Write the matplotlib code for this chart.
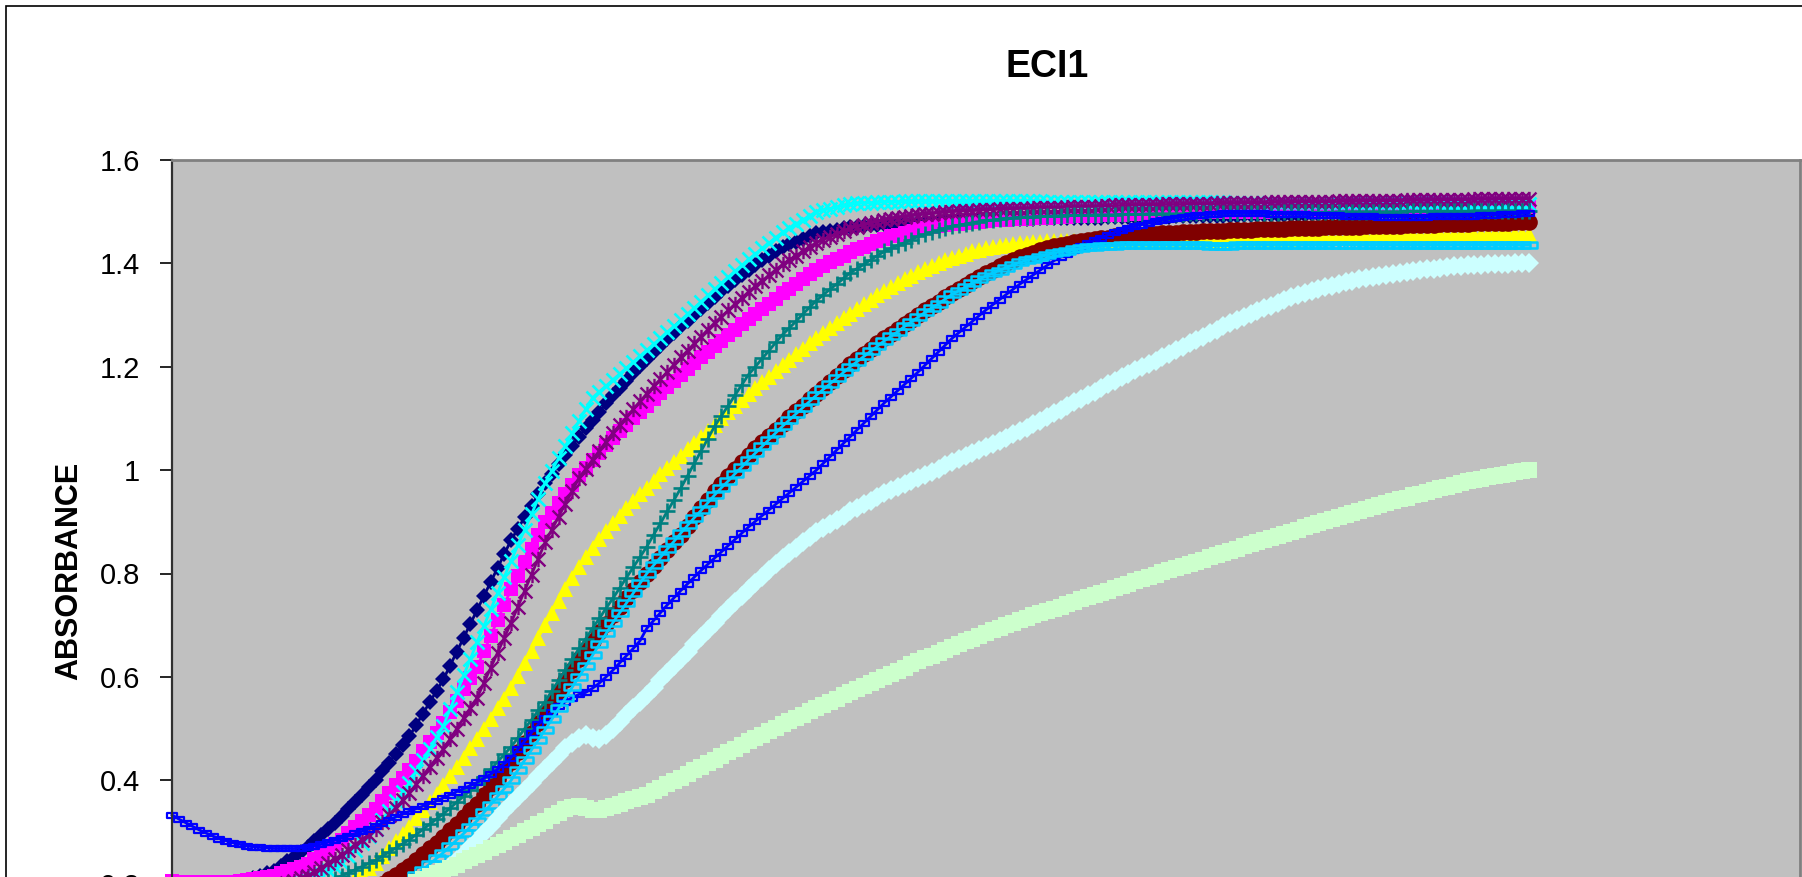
import numpy as np
import matplotlib
matplotlib.use("Agg")
from matplotlib import pyplot as plt
from matplotlib.path import Path
from matplotlib.patches import Rectangle

plt.rcParams["font.family"] = ["Liberation Sans", "DejaVu Sans"]

# sampling time, seconds
time_s = np.arange(0, 1005, 5)

s1 = [0.170, 0.172, 0.174, 0.176, 0.178, 0.180, 0.184, 0.188, 0.192, 0.196,
      0.200, 0.205, 0.210, 0.215, 0.220, 0.225, 0.234, 0.243, 0.252, 0.261,
      0.270, 0.282, 0.294, 0.306, 0.318, 0.330, 0.344, 0.358, 0.372, 0.386,
      0.400, 0.417, 0.434, 0.451, 0.468, 0.485, 0.507, 0.529, 0.551, 0.573,
      0.595, 0.622, 0.649, 0.676, 0.703, 0.730, 0.757, 0.784, 0.811, 0.838,
      0.865, 0.887, 0.909, 0.931, 0.953, 0.975, 0.993, 1.011, 1.029, 1.047,
      1.065, 1.081, 1.097, 1.113, 1.129, 1.145, 1.159, 1.173, 1.187, 1.201,
      1.215, 1.228, 1.240, 1.253, 1.265, 1.278, 1.289, 1.301, 1.312, 1.324,
      1.335, 1.346, 1.356, 1.367, 1.377, 1.388, 1.397, 1.406, 1.414, 1.423,
      1.432, 1.437, 1.442, 1.448, 1.453, 1.458, 1.460, 1.463, 1.465, 1.468,
      1.470, 1.471, 1.472, 1.474, 1.475, 1.476, 1.477, 1.478, 1.478, 1.479,
      1.480, 1.480, 1.481, 1.481, 1.482, 1.482, 1.482, 1.483, 1.483, 1.484,
      1.484, 1.484, 1.485, 1.485, 1.486, 1.486, 1.486, 1.486, 1.487, 1.487,
      1.487, 1.487, 1.487, 1.488, 1.488, 1.488, 1.488, 1.488, 1.489, 1.489,
      1.489, 1.489, 1.489, 1.490, 1.490, 1.490, 1.490, 1.490, 1.491, 1.491,
      1.491, 1.491, 1.491, 1.492, 1.492, 1.492, 1.492, 1.492, 1.493, 1.493,
      1.493, 1.493, 1.493, 1.494, 1.494, 1.494, 1.494, 1.494, 1.495, 1.495,
      1.495, 1.495, 1.495, 1.496, 1.496, 1.496, 1.496, 1.496, 1.497, 1.497,
      1.497, 1.497, 1.497, 1.498, 1.498, 1.498, 1.498, 1.498, 1.498, 1.498,
      1.498, 1.498, 1.499, 1.499, 1.499, 1.499, 1.499, 1.499, 1.500, 1.500,
      1.500]

s2 = [0.205, 0.204, 0.204, 0.203, 0.203, 0.202, 0.203, 0.203, 0.204, 0.204,
      0.205, 0.207, 0.209, 0.211, 0.213, 0.215, 0.220, 0.224, 0.229, 0.233,
      0.238, 0.247, 0.257, 0.266, 0.276, 0.285, 0.297, 0.309, 0.321, 0.333,
      0.345, 0.360, 0.375, 0.390, 0.405, 0.420, 0.438, 0.456, 0.474, 0.492,
      0.510, 0.532, 0.554, 0.576, 0.598, 0.620, 0.650, 0.680, 0.710, 0.740,
      0.770, 0.796, 0.822, 0.848, 0.874, 0.900, 0.918, 0.936, 0.954, 0.972,
      0.990, 1.004, 1.019, 1.033, 1.048, 1.062, 1.075, 1.087, 1.100, 1.112,
      1.125, 1.137, 1.149, 1.161, 1.173, 1.185, 1.196, 1.207, 1.218, 1.229,
      1.240, 1.250, 1.261, 1.271, 1.282, 1.292, 1.302, 1.312, 1.322, 1.332,
      1.342, 1.351, 1.360, 1.370, 1.379, 1.388, 1.395, 1.402, 1.408, 1.415,
      1.422, 1.427, 1.432, 1.438, 1.443, 1.448, 1.452, 1.455, 1.459, 1.462,
      1.466, 1.468, 1.470, 1.472, 1.474, 1.476, 1.477, 1.478, 1.480, 1.481,
      1.482, 1.483, 1.484, 1.484, 1.485, 1.486, 1.486, 1.487, 1.488, 1.488,
      1.489, 1.490, 1.490, 1.491, 1.491, 1.492, 1.492, 1.493, 1.493, 1.494,
      1.494, 1.495, 1.495, 1.496, 1.496, 1.497, 1.497, 1.497, 1.498, 1.498,
      1.498, 1.498, 1.499, 1.499, 1.499, 1.499, 1.499, 1.500, 1.500, 1.500,
      1.500, 1.500, 1.501, 1.501, 1.501, 1.501, 1.502, 1.502, 1.502, 1.502,
      1.503, 1.503, 1.503, 1.503, 1.504, 1.504, 1.504, 1.504, 1.505, 1.505,
      1.505, 1.505, 1.506, 1.506, 1.506, 1.507, 1.507, 1.507, 1.507, 1.507,
      1.508, 1.508, 1.508, 1.508, 1.509, 1.509, 1.509, 1.509, 1.510, 1.510,
      1.510]

s3 = [0.150, 0.150, 0.151, 0.151, 0.152, 0.152, 0.153, 0.154, 0.154, 0.155,
      0.156, 0.157, 0.158, 0.160, 0.161, 0.162, 0.164, 0.166, 0.168, 0.170,
      0.172, 0.176, 0.180, 0.184, 0.188, 0.192, 0.202, 0.211, 0.221, 0.230,
      0.240, 0.254, 0.268, 0.282, 0.296, 0.310, 0.326, 0.342, 0.358, 0.374,
      0.390, 0.408, 0.426, 0.444, 0.462, 0.480, 0.500, 0.519, 0.539, 0.558,
      0.578, 0.602, 0.627, 0.651, 0.676, 0.700, 0.724, 0.747, 0.770, 0.792,
      0.812, 0.831, 0.849, 0.866, 0.882, 0.897, 0.912, 0.926, 0.940, 0.953,
      0.966, 0.979, 0.992, 1.004, 1.016, 1.028, 1.040, 1.052, 1.064, 1.076,
      1.088, 1.100, 1.112, 1.124, 1.136, 1.148, 1.159, 1.170, 1.181, 1.192,
      1.203, 1.214, 1.225, 1.235, 1.245, 1.255, 1.265, 1.275, 1.285, 1.294,
      1.303, 1.312, 1.321, 1.330, 1.338, 1.346, 1.354, 1.362, 1.369, 1.376,
      1.383, 1.389, 1.395, 1.401, 1.406, 1.411, 1.415, 1.419, 1.423, 1.426,
      1.429, 1.431, 1.433, 1.435, 1.437, 1.439, 1.440, 1.441, 1.442, 1.443,
      1.444, 1.444, 1.444, 1.444, 1.444, 1.445, 1.445, 1.445, 1.445, 1.445,
      1.445, 1.445, 1.445, 1.445, 1.445, 1.446, 1.446, 1.446, 1.446, 1.446,
      1.446, 1.446, 1.446, 1.446, 1.446, 1.446, 1.447, 1.447, 1.447, 1.447,
      1.447, 1.447, 1.448, 1.448, 1.448, 1.448, 1.449, 1.449, 1.449, 1.449,
      1.450, 1.450, 1.450, 1.450, 1.451, 1.451, 1.451, 1.451, 1.452, 1.452,
      1.452, 1.452, 1.453, 1.453, 1.453, 1.453, 1.454, 1.454, 1.454, 1.454,
      1.455, 1.455, 1.455, 1.455, 1.456, 1.456, 1.456, 1.456, 1.457, 1.457,
      1.457]

s4 = [0.160, 0.161, 0.162, 0.163, 0.164, 0.165, 0.166, 0.168, 0.169, 0.171,
      0.172, 0.175, 0.177, 0.180, 0.182, 0.185, 0.189, 0.193, 0.197, 0.201,
      0.205, 0.212, 0.219, 0.226, 0.233, 0.240, 0.253, 0.266, 0.279, 0.292,
      0.305, 0.323, 0.341, 0.359, 0.377, 0.395, 0.417, 0.439, 0.461, 0.483,
      0.505, 0.538, 0.570, 0.603, 0.635, 0.668, 0.699, 0.731, 0.762, 0.794,
      0.825, 0.855, 0.885, 0.915, 0.945, 0.975, 0.999, 1.023, 1.047, 1.071,
      1.095, 1.118, 1.140, 1.152, 1.163, 1.175, 1.186, 1.198, 1.209, 1.221,
      1.232, 1.244, 1.255, 1.267, 1.278, 1.290, 1.302, 1.314, 1.326, 1.338,
      1.350, 1.362, 1.373, 1.385, 1.396, 1.408, 1.418, 1.429, 1.439, 1.450,
      1.460, 1.468, 1.476, 1.484, 1.492, 1.500, 1.503, 1.506, 1.509, 1.512,
      1.515, 1.516, 1.517, 1.517, 1.518, 1.519, 1.519, 1.519, 1.520, 1.520,
      1.520, 1.520, 1.520, 1.520, 1.520, 1.520, 1.520, 1.520, 1.520, 1.520,
      1.520, 1.520, 1.520, 1.520, 1.520, 1.520, 1.520, 1.520, 1.520, 1.519,
      1.519, 1.519, 1.519, 1.519, 1.519, 1.519, 1.519, 1.519, 1.519, 1.519,
      1.519, 1.519, 1.519, 1.518, 1.518, 1.518, 1.518, 1.518, 1.518, 1.518,
      1.518, 1.518, 1.518, 1.518, 1.518, 1.518, 1.517, 1.517, 1.517, 1.517,
      1.517, 1.517, 1.517, 1.517, 1.517, 1.517, 1.517, 1.517, 1.517, 1.517,
      1.517, 1.517, 1.516, 1.516, 1.516, 1.516, 1.516, 1.516, 1.516, 1.516,
      1.516, 1.516, 1.516, 1.516, 1.516, 1.516, 1.516, 1.516, 1.515, 1.515,
      1.515, 1.515, 1.515, 1.515, 1.515, 1.515, 1.515, 1.515, 1.515, 1.515,
      1.515]

s5 = [0.165, 0.166, 0.167, 0.168, 0.169, 0.170, 0.172, 0.173, 0.175, 0.176,
      0.178, 0.181, 0.184, 0.186, 0.189, 0.192, 0.197, 0.201, 0.206, 0.210,
      0.215, 0.223, 0.231, 0.239, 0.247, 0.255, 0.265, 0.275, 0.285, 0.295,
      0.305, 0.319, 0.333, 0.347, 0.361, 0.375, 0.392, 0.409, 0.426, 0.443,
      0.460, 0.480, 0.500, 0.520, 0.540, 0.560, 0.589, 0.618, 0.647, 0.676,
      0.705, 0.736, 0.767, 0.798, 0.829, 0.860, 0.885, 0.910, 0.935, 0.960,
      0.985, 1.002, 1.020, 1.037, 1.055, 1.072, 1.087, 1.102, 1.118, 1.133,
      1.148, 1.162, 1.176, 1.190, 1.204, 1.218, 1.231, 1.245, 1.258, 1.272,
      1.285, 1.297, 1.309, 1.321, 1.333, 1.345, 1.356, 1.366, 1.377, 1.387,
      1.398, 1.406, 1.415, 1.423, 1.432, 1.440, 1.446, 1.451, 1.457, 1.462,
      1.468, 1.471, 1.474, 1.478, 1.481, 1.484, 1.486, 1.488, 1.490, 1.492,
      1.494, 1.495, 1.496, 1.498, 1.499, 1.500, 1.501, 1.502, 1.502, 1.503,
      1.504, 1.504, 1.505, 1.505, 1.506, 1.506, 1.506, 1.507, 1.507, 1.508,
      1.508, 1.508, 1.509, 1.509, 1.510, 1.510, 1.510, 1.511, 1.511, 1.512,
      1.512, 1.512, 1.513, 1.513, 1.513, 1.513, 1.514, 1.514, 1.514, 1.514,
      1.515, 1.515, 1.515, 1.515, 1.516, 1.516, 1.516, 1.516, 1.517, 1.517,
      1.517, 1.517, 1.518, 1.518, 1.518, 1.518, 1.519, 1.519, 1.519, 1.519,
      1.519, 1.519, 1.520, 1.520, 1.520, 1.520, 1.521, 1.521, 1.521, 1.521,
      1.521, 1.521, 1.522, 1.522, 1.522, 1.522, 1.523, 1.523, 1.523, 1.523,
      1.523, 1.523, 1.524, 1.524, 1.524, 1.524, 1.525, 1.525, 1.525, 1.525,
      1.525]

s6 = [0.120, 0.121, 0.122, 0.122, 0.123, 0.124, 0.125, 0.126, 0.128, 0.129,
      0.130, 0.132, 0.133, 0.135, 0.136, 0.138, 0.140, 0.143, 0.145, 0.148,
      0.150, 0.153, 0.156, 0.160, 0.163, 0.166, 0.171, 0.176, 0.180, 0.185,
      0.190, 0.199, 0.208, 0.217, 0.226, 0.235, 0.246, 0.257, 0.268, 0.279,
      0.290, 0.303, 0.316, 0.329, 0.342, 0.355, 0.371, 0.387, 0.403, 0.419,
      0.435, 0.454, 0.473, 0.492, 0.511, 0.530, 0.551, 0.572, 0.593, 0.614,
      0.635, 0.652, 0.669, 0.686, 0.703, 0.720, 0.736, 0.752, 0.768, 0.784,
      0.800, 0.815, 0.830, 0.845, 0.860, 0.875, 0.892, 0.909, 0.926, 0.943,
      0.960, 0.974, 0.988, 1.002, 1.016, 1.030, 1.042, 1.054, 1.066, 1.078,
      1.090, 1.102, 1.114, 1.125, 1.137, 1.148, 1.159, 1.171, 1.182, 1.194,
      1.205, 1.215, 1.225, 1.235, 1.245, 1.255, 1.264, 1.273, 1.282, 1.291,
      1.300, 1.309, 1.317, 1.326, 1.334, 1.343, 1.351, 1.359, 1.366, 1.374,
      1.382, 1.388, 1.394, 1.400, 1.406, 1.412, 1.416, 1.420, 1.425, 1.429,
      1.433, 1.436, 1.438, 1.441, 1.443, 1.446, 1.447, 1.449, 1.450, 1.452,
      1.453, 1.454, 1.455, 1.455, 1.456, 1.457, 1.458, 1.459, 1.459, 1.460,
      1.461, 1.461, 1.462, 1.462, 1.463, 1.463, 1.464, 1.464, 1.465, 1.465,
      1.466, 1.466, 1.467, 1.467, 1.467, 1.468, 1.468, 1.468, 1.469, 1.469,
      1.470, 1.470, 1.470, 1.471, 1.471, 1.471, 1.472, 1.472, 1.472, 1.473,
      1.473, 1.473, 1.474, 1.474, 1.475, 1.475, 1.475, 1.476, 1.476, 1.477,
      1.477, 1.477, 1.478, 1.478, 1.478, 1.479, 1.479, 1.479, 1.480, 1.480,
      1.480]

s7 = [0.140, 0.141, 0.142, 0.143, 0.144, 0.145, 0.146, 0.148, 0.149, 0.151,
      0.152, 0.155, 0.157, 0.160, 0.162, 0.165, 0.169, 0.173, 0.177, 0.181,
      0.185, 0.191, 0.197, 0.203, 0.209, 0.215, 0.221, 0.227, 0.233, 0.239,
      0.245, 0.253, 0.261, 0.269, 0.277, 0.285, 0.295, 0.305, 0.315, 0.325,
      0.335, 0.346, 0.358, 0.369, 0.381, 0.392, 0.407, 0.421, 0.436, 0.450,
      0.465, 0.482, 0.500, 0.517, 0.535, 0.552, 0.573, 0.593, 0.614, 0.634,
      0.655, 0.674, 0.694, 0.713, 0.733, 0.752, 0.772, 0.792, 0.812, 0.832,
      0.852, 0.875, 0.897, 0.920, 0.942, 0.965, 0.989, 1.013, 1.037, 1.061,
      1.085, 1.105, 1.125, 1.145, 1.165, 1.185, 1.200, 1.216, 1.231, 1.247,
      1.262, 1.275, 1.288, 1.302, 1.315, 1.328, 1.339, 1.350, 1.360, 1.371,
      1.382, 1.390, 1.398, 1.407, 1.415, 1.423, 1.429, 1.435, 1.440, 1.446,
      1.452, 1.456, 1.460, 1.464, 1.468, 1.472, 1.474, 1.476, 1.479, 1.481,
      1.483, 1.484, 1.485, 1.487, 1.488, 1.489, 1.490, 1.490, 1.491, 1.491,
      1.492, 1.492, 1.493, 1.493, 1.493, 1.493, 1.494, 1.494, 1.494, 1.494,
      1.495, 1.495, 1.495, 1.495, 1.496, 1.496, 1.496, 1.496, 1.496, 1.496,
      1.497, 1.497, 1.497, 1.497, 1.497, 1.497, 1.497, 1.498, 1.498, 1.498,
      1.498, 1.498, 1.498, 1.498, 1.499, 1.499, 1.499, 1.499, 1.499, 1.499,
      1.499, 1.499, 1.500, 1.500, 1.500, 1.500, 1.500, 1.500, 1.500, 1.500,
      1.500, 1.500, 1.501, 1.501, 1.501, 1.501, 1.501, 1.501, 1.501, 1.501,
      1.501, 1.501, 1.502, 1.502, 1.502, 1.502, 1.502, 1.502, 1.502, 1.502,
      1.502]

s8 = [0.333, 0.325, 0.318, 0.311, 0.304, 0.298, 0.292, 0.287, 0.283, 0.279,
      0.276, 0.273, 0.271, 0.270, 0.269, 0.268, 0.268, 0.268, 0.268, 0.269,
      0.270, 0.273, 0.276, 0.280, 0.284, 0.288, 0.292, 0.297, 0.301, 0.306,
      0.311, 0.317, 0.323, 0.329, 0.335, 0.340, 0.345, 0.350, 0.355, 0.360,
      0.366, 0.372, 0.378, 0.384, 0.390, 0.396, 0.404, 0.412, 0.421, 0.432,
      0.444, 0.460, 0.476, 0.492, 0.508, 0.520, 0.532, 0.543, 0.552, 0.560,
      0.566, 0.570, 0.578, 0.588, 0.600, 0.613, 0.627, 0.641, 0.655, 0.670,
      0.694, 0.709, 0.724, 0.739, 0.753, 0.767, 0.780, 0.793, 0.806, 0.818,
      0.830, 0.842, 0.854, 0.866, 0.878, 0.890, 0.901, 0.912, 0.923, 0.934,
      0.945, 0.956, 0.967, 0.978, 0.989, 1.000, 1.013, 1.026, 1.039, 1.052,
      1.065, 1.078, 1.091, 1.104, 1.117, 1.130, 1.142, 1.154, 1.166, 1.178,
      1.190, 1.203, 1.216, 1.229, 1.242, 1.255, 1.266, 1.277, 1.288, 1.299,
      1.310, 1.320, 1.330, 1.340, 1.350, 1.360, 1.369, 1.378, 1.387, 1.396,
      1.405, 1.412, 1.419, 1.426, 1.433, 1.440, 1.445, 1.450, 1.455, 1.460,
      1.465, 1.468, 1.472, 1.475, 1.479, 1.482, 1.484, 1.486, 1.488, 1.490,
      1.492, 1.493, 1.494, 1.495, 1.496, 1.497, 1.497, 1.497, 1.497, 1.497,
      1.497, 1.497, 1.496, 1.496, 1.496, 1.495, 1.495, 1.495, 1.494, 1.494,
      1.494, 1.493, 1.493, 1.492, 1.492, 1.491, 1.491, 1.491, 1.490, 1.490,
      1.490, 1.490, 1.490, 1.490, 1.490, 1.490, 1.491, 1.491, 1.491, 1.491,
      1.491, 1.492, 1.492, 1.493, 1.494, 1.494, 1.495, 1.496, 1.496, 1.497,
      1.497]

s9 = [0.100, 0.101, 0.102, 0.102, 0.103, 0.104, 0.105, 0.106, 0.108, 0.109,
      0.110, 0.111, 0.113, 0.114, 0.116, 0.117, 0.119, 0.120, 0.122, 0.123,
      0.125, 0.128, 0.130, 0.133, 0.135, 0.138, 0.142, 0.147, 0.151, 0.156,
      0.160, 0.169, 0.178, 0.187, 0.196, 0.205, 0.216, 0.227, 0.238, 0.249,
      0.260, 0.272, 0.285, 0.297, 0.310, 0.322, 0.338, 0.353, 0.369, 0.384,
      0.400, 0.420, 0.439, 0.459, 0.478, 0.498, 0.518, 0.539, 0.559, 0.580,
      0.600, 0.621, 0.642, 0.663, 0.684, 0.705, 0.724, 0.743, 0.762, 0.781,
      0.800, 0.816, 0.831, 0.847, 0.862, 0.878, 0.893, 0.908, 0.922, 0.937,
      0.952, 0.966, 0.979, 0.993, 1.006, 1.020, 1.033, 1.046, 1.059, 1.072,
      1.085, 1.097, 1.109, 1.121, 1.133, 1.145, 1.156, 1.167, 1.178, 1.189,
      1.200, 1.210, 1.220, 1.230, 1.240, 1.250, 1.259, 1.268, 1.278, 1.287,
      1.296, 1.305, 1.314, 1.322, 1.331, 1.340, 1.347, 1.354, 1.362, 1.369,
      1.376, 1.381, 1.386, 1.392, 1.397, 1.402, 1.406, 1.409, 1.413, 1.416,
      1.420, 1.422, 1.424, 1.427, 1.429, 1.431, 1.432, 1.433, 1.433, 1.434,
      1.435, 1.435, 1.435, 1.435, 1.435, 1.435, 1.435, 1.435, 1.435, 1.435,
      1.435, 1.435, 1.435, 1.434, 1.434, 1.434, 1.434, 1.435, 1.435, 1.435,
      1.435, 1.435, 1.435, 1.435, 1.435, 1.435, 1.435, 1.435, 1.435, 1.435,
      1.435, 1.435, 1.436, 1.436, 1.436, 1.435, 1.435, 1.435, 1.435, 1.435,
      1.435, 1.435, 1.435, 1.435, 1.435, 1.435, 1.435, 1.435, 1.435, 1.435,
      1.435, 1.435, 1.435, 1.435, 1.435, 1.435, 1.435, 1.435, 1.435, 1.435,
      1.435]

s10 = [0.100, 0.101, 0.101, 0.102, 0.102, 0.103, 0.104, 0.105, 0.106, 0.107,
       0.108, 0.109, 0.110, 0.112, 0.113, 0.114, 0.116, 0.117, 0.119, 0.120,
       0.122, 0.124, 0.127, 0.129, 0.132, 0.134, 0.138, 0.141, 0.145, 0.148,
       0.152, 0.158, 0.163, 0.169, 0.174, 0.180, 0.188, 0.197, 0.205, 0.214,
       0.222, 0.234, 0.246, 0.258, 0.270, 0.282, 0.297, 0.311, 0.326, 0.340,
       0.355, 0.368, 0.382, 0.395, 0.409, 0.422, 0.435, 0.449, 0.462, 0.472,
       0.482, 0.488, 0.482, 0.480, 0.488, 0.500, 0.513, 0.526, 0.539, 0.552,
       0.565, 0.579, 0.593, 0.607, 0.621, 0.635, 0.649, 0.663, 0.677, 0.691,
       0.705, 0.718, 0.731, 0.744, 0.757, 0.770, 0.782, 0.794, 0.806, 0.818,
       0.830, 0.840, 0.850, 0.860, 0.870, 0.880, 0.888, 0.896, 0.904, 0.912,
       0.920, 0.927, 0.934, 0.941, 0.948, 0.955, 0.961, 0.967, 0.973, 0.979,
       0.985, 0.991, 0.997, 1.003, 1.009, 1.015, 1.021, 1.027, 1.033, 1.039,
       1.045, 1.051, 1.057, 1.063, 1.069, 1.075, 1.082, 1.089, 1.096, 1.103,
       1.110, 1.117, 1.124, 1.131, 1.138, 1.145, 1.152, 1.159, 1.166, 1.173,
       1.180, 1.186, 1.193, 1.199, 1.206, 1.212, 1.219, 1.225, 1.232, 1.238,
       1.245, 1.252, 1.258, 1.265, 1.271, 1.278, 1.284, 1.290, 1.296, 1.302,
       1.308, 1.313, 1.318, 1.324, 1.329, 1.334, 1.338, 1.342, 1.346, 1.350,
       1.354, 1.357, 1.360, 1.363, 1.366, 1.369, 1.371, 1.373, 1.376, 1.378,
       1.380, 1.382, 1.384, 1.385, 1.387, 1.389, 1.390, 1.391, 1.393, 1.394,
       1.395, 1.396, 1.397, 1.397, 1.398, 1.399, 1.399, 1.399, 1.400, 1.400,
       1.400]

s11 = [0.080, 0.081, 0.082, 0.082, 0.083, 0.084, 0.085, 0.086, 0.088, 0.089,
       0.090, 0.092, 0.093, 0.095, 0.096, 0.098, 0.100, 0.103, 0.105, 0.108,
       0.110, 0.114, 0.119, 0.123, 0.128, 0.132, 0.139, 0.145, 0.152, 0.158,
       0.165, 0.172, 0.178, 0.185, 0.191, 0.198, 0.203, 0.209, 0.214, 0.220,
       0.225, 0.231, 0.237, 0.243, 0.249, 0.255, 0.262, 0.268, 0.275, 0.281,
       0.288, 0.295, 0.301, 0.308, 0.315, 0.322, 0.330, 0.337, 0.345, 0.348,
       0.350, 0.346, 0.342, 0.343, 0.346, 0.350, 0.354, 0.359, 0.363, 0.368,
       0.372, 0.379, 0.385, 0.392, 0.398, 0.405, 0.412, 0.419, 0.426, 0.433,
       0.440, 0.447, 0.454, 0.461, 0.468, 0.475, 0.482, 0.488, 0.495, 0.501,
       0.508, 0.514, 0.521, 0.527, 0.534, 0.540, 0.546, 0.552, 0.558, 0.564,
       0.570, 0.576, 0.582, 0.588, 0.594, 0.600, 0.606, 0.612, 0.618, 0.624,
       0.630, 0.636, 0.641, 0.647, 0.652, 0.658, 0.663, 0.669, 0.674, 0.680,
       0.685, 0.690, 0.695, 0.700, 0.705, 0.710, 0.714, 0.719, 0.723, 0.728,
       0.732, 0.736, 0.741, 0.745, 0.750, 0.754, 0.758, 0.763, 0.767, 0.772,
       0.776, 0.780, 0.785, 0.789, 0.794, 0.798, 0.802, 0.806, 0.811, 0.815,
       0.819, 0.823, 0.827, 0.832, 0.836, 0.840, 0.844, 0.848, 0.853, 0.857,
       0.861, 0.865, 0.869, 0.873, 0.877, 0.881, 0.885, 0.889, 0.893, 0.897,
       0.901, 0.905, 0.909, 0.913, 0.917, 0.921, 0.925, 0.929, 0.932, 0.936,
       0.940, 0.944, 0.947, 0.951, 0.954, 0.958, 0.961, 0.965, 0.968, 0.972,
       0.975, 0.978, 0.981, 0.983, 0.986, 0.989, 0.991, 0.993, 0.996, 0.998,
       1.000]

# hand-made markers: asterisk and two hollow bars
star = Path([(-1, -1), (1, 1), (-1, 1), (1, -1), (0, -1.1), (0, 1.1)],
            [Path.MOVETO, Path.LINETO, Path.MOVETO, Path.LINETO,
             Path.MOVETO, Path.LINETO])
bar_short = Path([(-1, -0.5), (1, -0.5), (1, 0.5), (-1, 0.5), (-1, -0.5)],
                 [Path.MOVETO] + [Path.LINETO] * 3 + [Path.CLOSEPOLY])
bar_long = Path([(-1, -0.33), (1, -0.33), (1, 0.33), (-1, 0.33), (-1, -0.33)],
                [Path.MOVETO] + [Path.LINETO] * 3 + [Path.CLOSEPOLY])

series = [s1, s2, s3, s4, s5, s6, s7, s8, s9, s10, s11]
styles = [
    dict(color="#000080", marker="D", ms=8.6, mew=0),
    dict(color="#FF00FF", marker="s", ms=10.5, mew=0),
    dict(color="#FFFF00", marker="^", ms=11.5, mew=0),
    dict(color="#00FFFF", marker="x", ms=10.5, mew=1.9),
    dict(color="#800080", marker=star, ms=11.0, mew=1.7, mfc="none"),
    dict(color="#800000", marker="o", ms=12.0, mew=0),
    dict(color="#008080", marker="+", ms=11.0, mew=1.9),
    dict(color="#0000FF", marker=bar_short, ms=7.2, mew=1.6, mfc="none"),
    dict(color="#00CCFF", marker=bar_long, ms=11.0, mew=1.8, mfc="none"),
    dict(color="#CCFFFF", marker="D", ms=10.0, mew=0),
    dict(color="#CCFFCC", marker="s", ms=11.5, mew=0),
]

W, H = 1802, 877
fig = plt.figure(figsize=(W / 100, H / 100), dpi=100)
fig.patch.set_facecolor("white")

# plot area runs past the bottom edge of the sheet
ax = fig.add_axes([172 / W, (H - 987) / H, 1628 / W, 827 / H])
ax.set_facecolor("#C0C0C0")

for vals, st in zip(series, styles):
    ax.plot(time_s, vals, lw=2.0, clip_on=False, **st)

ax.set_xlim(0, 1200)
ax.set_ylim(0, 1.6)
ax.set_yticks(np.arange(0, 1.61, 0.2))
ax.set_yticklabels(["%g" % round(v, 1) for v in np.arange(0, 1.61, 0.2)])
ax.tick_params(axis="y", direction="out", length=9, width=1.2, pad=14,
               labelsize=21, colors="black")
ax.tick_params(axis="x", length=0, labelbottom=False)

for side in ["top", "right"]:
    ax.spines[side].set_color("#808080")
    ax.spines[side].set_linewidth(2)
ax.spines["left"].set_color("#303030")
ax.spines["left"].set_linewidth(1.6)
ax.spines["bottom"].set_visible(False)

fig.text(1047 / W, 1 - 67 / H, "ECI1", ha="center", va="center",
         fontsize=27, fontweight="bold")
fig.text(69 / W, 1 - 571 / H, "ABSORBANCE", rotation=90, ha="center",
         va="center", fontsize=22, fontweight="bold")

# chart area border
fig.add_artist(Rectangle((6 / W, -0.2), 1.2, 1.2 - 6 / H,
                         transform=fig.transFigure, fill=False,
                         ec="black", lw=1.2))

fig.savefig("out.png", dpi=100)
